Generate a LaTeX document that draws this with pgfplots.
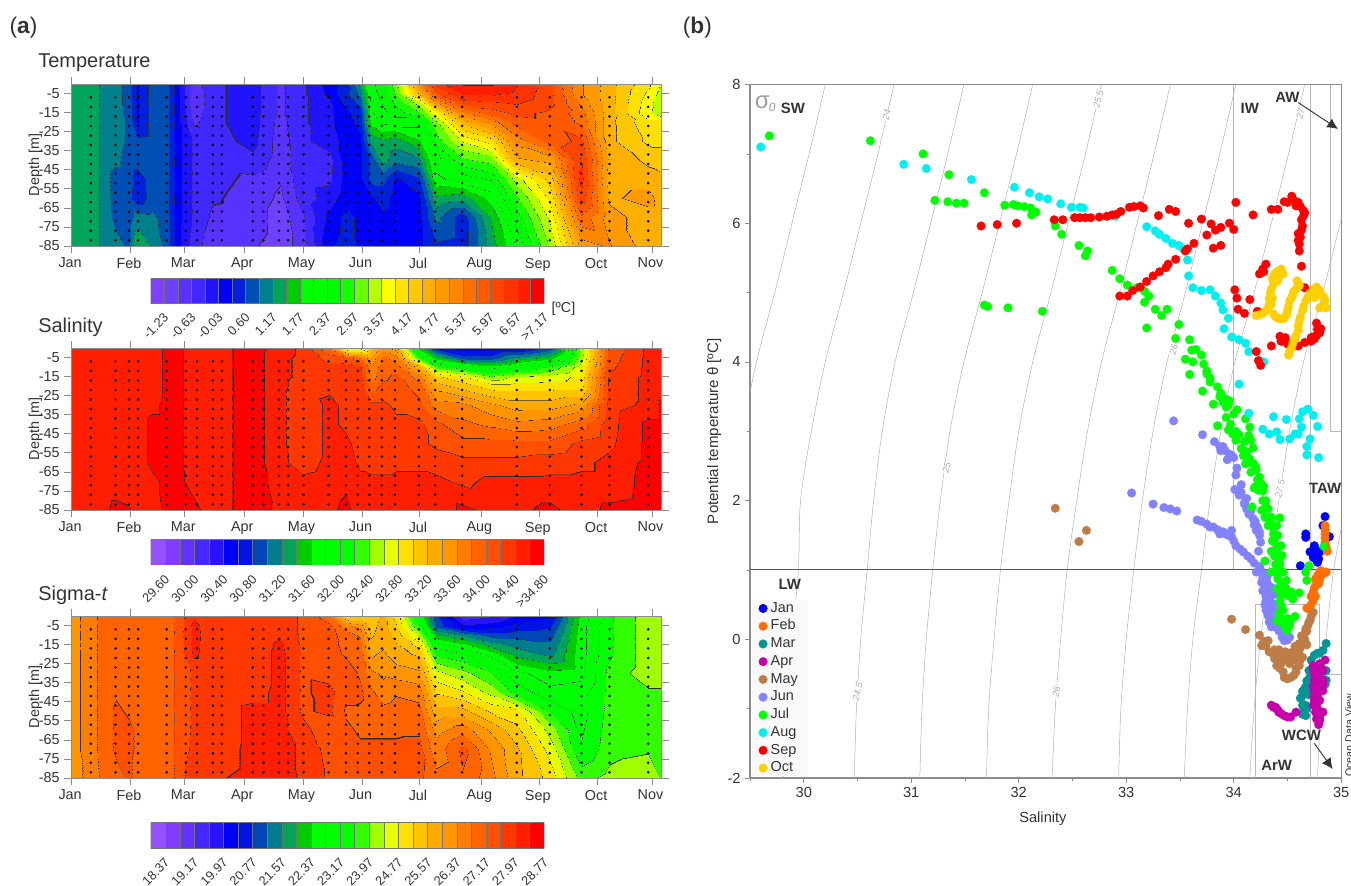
\documentclass[border=0pt]{standalone}
\usepackage{fontspec}
\setmainfont{Liberation Sans}
\usepackage{pgfplots}
\usepackage{pgfplotstable}
\pgfplotsset{compat=1.18}
\usetikzlibrary{arrows.meta}

% band palettes: every band ends in a thin dark stripe, which draws the contour line
\newcount\bn
\def\B#1,#2,#3;{%
  \definecolor{\cp\the\bn}{RGB}{#1,#2,#3}%
  \pgfmathsetmacro\pa{10*\the\bn+.1}\pgfmathsetmacro\pb{10*\the\bn+9.7}%
  \pgfmathsetmacro\pc{10*\the\bn+9.8}\pgfmathsetmacro\pd{10*\the\bn+10}%
  \xdef\cmbuf{\cmbuf rgb255(\pa pt)=(#1,#2,#3) rgb255(\pb pt)=(#1,#2,#3) rgb255(\pc pt)=(45,45,45) rgb255(\pd pt)=(45,45,45) }%
  \global\advance\bn by 1 }
\def\cp{tc}\bn=0 \def\cmbuf{}
\B128,64,255;\B112,64,255;\B90,50,255;\B64,40,255;\B32,20,255;\B0,0,255;\B0,32,220;\B0,80,180;\B0,128,140;\B0,165,90;
\B0,205,0;\B0,255,0;\B0,255,0;\B0,250,0;\B20,255,0;\B100,255,0;\B180,255,0;\B255,255,0;\B255,225,0;\B255,200,0;
\B255,175,0;\B255,155,0;\B255,135,0;\B255,110,0;\B255,90,0;\B255,70,0;\B255,50,0;\B255,30,0;\B255,0,0;
\edef\x{\noexpand\pgfplotsset{colormap={odvT}{\cmbuf}}}\x
\def\cp{sc}\bn=0 \def\cmbuf{}
\B150,80,255;\B130,60,255;\B100,50,255;\B70,40,255;\B40,20,255;\B0,0,255;\B0,20,230;\B0,70,180;\B0,125,140;\B0,165,90;
\B0,205,0;\B0,255,0;\B0,255,0;\B0,255,0;\B50,255,0;\B160,255,0;\B230,255,0;\B255,225,0;\B255,195,0;\B255,170,0;
\B255,150,0;\B255,125,0;\B255,100,0;\B255,80,0;\B255,55,0;\B255,30,0;\B255,0,0;
\edef\x{\noexpand\pgfplotsset{colormap={odvS}{\cmbuf}}}\x

\definecolor{txt}{gray}{0.2}
\definecolor{frame}{gray}{0.55}
\definecolor{iso}{gray}{0.68}
\definecolor{box}{gray}{0.72}
\definecolor{legbg}{gray}{0.975}
\definecolor{mJan}{RGB}{0,0,255}
\definecolor{mFeb}{RGB}{255,110,0}
\definecolor{mMar}{RGB}{0,150,150}
\definecolor{mApr}{RGB}{200,0,170}
\definecolor{mMay}{RGB}{190,125,70}
\definecolor{mJun}{RGB}{130,130,255}
\definecolor{mJul}{RGB}{0,255,0}
\definecolor{mAug}{RGB}{0,240,240}
\definecolor{mSep}{RGB}{255,0,0}
\definecolor{mOct}{RGB}{255,208,0}

\pgfplotstableread{
x y T S D
0 0 1.35 34.5 26.2
0 -5 1.35 34.5 26.2
0 -10 1.35 34.5 26.2
0 -15 1.35 34.5 26.2
0 -20 1.35 34.5 26.2
0 -30 1.35 34.5 26.2
0 -40 1.35 34.5 26.2
0 -50 1.35 34.5 26.2
0 -60 1.35 34.5 26.2
0 -70 1.35 34.5 26.2
0 -85 1.35 34.5 26.2
10 0 1.35 34.5 26.6
10 -5 1.35 34.5 26.6
10 -10 1.35 34.5 26.6
10 -15 1.35 34.5 26.6
10 -20 1.35 34.5 26.6
10 -30 1.35 34.5 26.6
10 -40 1.35 34.5 26.6
10 -50 1.35 34.5 26.6
10 -60 1.35 34.5 26.6
10 -70 1.35 34.5 26.6
10 -85 1.3 34.5 26.5
16 0 1.1 34.5 26.9
16 -5 1.1 34.5 26.9
16 -10 1.1 34.5 26.9
16 -15 1.1 34.5 26.9
16 -20 1.1 34.5 26.9
16 -30 1.1 34.5 26.9
16 -40 1.1 34.5 26.9
16 -50 1.1 34.5 26.9
16 -60 1.1 34.5 26.9
16 -70 1.1 34.5 26.9
16 -85 1.1 34.55 26.85
23 0 1 34.5 26.9
23 -5 1 34.5 26.9
23 -10 1 34.5 26.9
23 -15 1 34.5 26.9
23 -20 1 34.5 26.9
23 -30 1 34.5 26.95
23 -40 .95 34.5 27.1
23 -50 .7 34.5 27.25
23 -60 .7 34.5 27.25
23 -70 .75 34.5 27.25
23 -85 1 34.65 27
30 0 .7 34.5 26.9
30 -5 .7 34.5 26.9
30 -10 .7 34.5 26.9
30 -15 .75 34.5 26.95
30 -20 .8 34.5 27
30 -30 .8 34.5 27
30 -40 .7 34.5 27.1
30 -50 .7 34.5 27.1
30 -60 .65 34.5 27.25
30 -70 .7 34.5 27.25
30 -85 .8 34.62 27.25
34 0 .2 34.5 27
34 -5 .2 34.5 27
34 -10 .2 34.5 27
34 -15 .2 34.5 27
34 -20 .2 34.5 27
34 -30 .65 34.5 27.1
34 -40 .7 34.5 27.1
34 -50 .4 34.5 27.1
34 -60 .35 34.5 27.1
34 -70 1 34.5 27.1
34 -85 1.5 34.5 27
42 0 .7 34.5 26.9
42 -5 .7 34.5 26.9
42 -10 .7 34.5 26.9
42 -15 .7 34.5 26.9
42 -20 .7 34.5 26.9
42 -30 .7 34.55 26.9
42 -40 .7 34.65 26.9
42 -50 .7 34.65 26.9
42 -60 .7 34.65 26.9
42 -70 .95 34.55 26.9
42 -85 1.1 34.5 27
50 0 .65 34.65 27
50 -5 .65 34.65 27
50 -10 .65 34.65 27
50 -15 .65 34.65 27
50 -20 .65 34.65 27
50 -30 .65 34.65 27
50 -40 .65 34.65 27
50 -50 .65 34.65 27
50 -60 .65 34.65 27
50 -70 .7 34.65 27
50 -85 .75 34.65 27
55 0 .1 34.65 27.25
55 -5 .1 34.65 27.25
55 -10 .1 34.65 27.25
55 -15 .1 34.65 27.25
55 -20 .1 34.65 27.25
55 -30 .1 34.65 27.25
55 -40 .1 34.65 27.25
55 -50 .1 34.65 27.25
55 -60 .1 34.65 27.25
55 -70 .1 34.65 27.25
55 -85 .1 34.65 27.25
64 0 -.8 34.5 27.9
64 -5 -.9 34.5 28.1
64 -10 -.9 34.5 28.1
64 -15 -.8 34.5 28.1
64 -20 -.7 34.5 28.05
64 -30 -.4 34.5 27.65
64 -40 -.4 34.5 27.65
64 -50 -.4 34.5 27.65
64 -60 -.4 34.5 27.65
64 -70 -.4 34.52 27.7
64 -85 -.5 34.65 27.9
74 0 -.4 34.5 27.65
74 -5 -.4 34.5 27.65
74 -10 -.4 34.5 27.65
74 -15 -.4 34.5 27.65
74 -20 -.4 34.5 27.65
74 -30 -.45 34.5 27.65
74 -40 -.5 34.5 27.65
74 -50 -.55 34.5 27.65
74 -60 -.6 34.5 27.65
74 -70 -.7 34.5 27.7
74 -85 -.85 34.5 27.9
95 0 -.2 34.7 27.7
95 -5 -.2 34.7 27.7
95 -10 -.2 34.7 27.7
95 -15 -.2 34.7 27.7
95 -20 -.2 34.7 27.7
95 -30 -.25 34.7 27.7
95 -40 -.4 34.7 27.8
95 -50 -.7 34.7 28.1
95 -60 -.75 34.7 28.1
95 -70 -.75 34.7 28.1
95 -85 -.9 34.7 28.1
109 0 -.7 34.5 27.8
109 -5 -.7 34.45 27.8
109 -10 -.7 34.45 27.9
109 -15 -.7 34.45 28.05
109 -20 -.75 34.45 28.1
109 -30 -.8 34.45 28.1
109 -40 -.8 34.45 28.1
109 -50 -.9 34.45 28.1
109 -60 -1 34.45 28.1
109 -70 -1.1 34.5 28.1
109 -85 -1.1 34.55 28.2
121 0 -.4 34.35 27.5
121 -5 -.4 34.35 27.5
121 -10 -.4 34.35 27.5
121 -15 -.4 34.35 27.5
121 -20 -.4 34.3 27.5
121 -30 -.4 34.25 27.5
121 -40 -.45 34.25 27.5
121 -50 -.45 34.25 27.5
121 -60 -.5 34.3 27.7
121 -70 -.7 34.45 27.9
121 -85 -.8 34.5 27.9
135 0 .1 33.8 26.9
135 -5 .05 34.1 27.25
135 -10 -.1 34.3 27.3
135 -15 -.1 34.3 27.3
135 -20 -.1 34.35 27.35
135 -30 -.2 34.45 27.4
135 -40 -.45 34.45 27.7
135 -50 -.4 34.45 27.65
135 -60 -.2 34.45 27.3
135 -70 .05 34.5 27.4
135 -85 .2 34.55 27.5
144 0 .4 32.5 25
144 -5 .5 34.05 26.5
144 -10 .35 34.3 27
144 -15 .2 34.3 27.05
144 -20 .15 34.3 27.1
144 -30 .1 34.35 27.4
144 -40 .1 34.35 27.3
144 -50 .1 34.45 27.1
144 -60 .15 34.5 27.25
144 -70 .35 34.55 27.3
144 -85 .4 34.65 27.45
151 0 1.25 32.5 25.25
151 -5 .95 33.85 26.2
151 -10 .65 34.25 26.7
151 -15 .4 34.3 26.9
151 -20 .35 34.3 27
151 -30 .2 34.3 27.1
151 -40 .2 34.3 27.25
151 -50 .2 34.3 27.1
151 -60 .2 34.35 27.1
151 -70 .2 34.45 27.25
151 -85 .2 34.5 27.4
157 0 2.3 33.1 25.3
157 -5 2.2 33.45 25.4
157 -10 2.15 33.65 25.5
157 -15 2 33.7 25.7
157 -20 1.9 33.9 25.9
157 -30 1.25 34.25 26.45
157 -40 .65 34.3 26.85
157 -50 .65 34.3 27
157 -60 .2 34.3 27.1
157 -70 .2 34.45 27.25
157 -85 .15 34.45 27.4
163 0 2.5 33.5 25.7
163 -5 2.5 33.85 25.75
163 -10 2.4 33.9 25.85
163 -15 2.3 33.95 25.9
163 -20 2.15 34.05 26.05
163 -30 1.4 34.25 26.3
163 -40 1.3 34.25 26.5
163 -50 .65 34.3 26.9
163 -60 .4 34.3 27.1
163 -70 .2 34.45 27.25
163 -85 .15 34.45 27.3
170 0 3.2 33.3 25
170 -5 3 33.7 25.2
170 -10 2.75 33.9 25.4
170 -15 2.5 34.05 25.6
170 -20 2.2 34.1 25.7
170 -30 1.3 34.15 26.2
170 -40 .95 34.25 26.7
170 -50 .2 34.3 27
170 -60 .1 34.35 27.1
170 -70 .1 34.45 27.25
170 -85 .1 34.45 27.3
182 0 5.2 31.5 22.8
182 -5 4.5 32.25 23.5
182 -10 3.4 33.3 24.3
182 -15 2.9 33.7 25
182 -20 2.2 33.9 25.5
182 -30 1.7 34.05 26.05
182 -40 1.1 34.25 26.6
182 -50 .5 34.25 26.9
182 -60 .2 34.35 27.1
182 -70 .2 34.45 27.3
182 -85 .2 34.45 27.25
191 0 6.4 30.7 20.85
191 -5 5.9 31.5 21.05
191 -10 5 32.3 22
191 -15 3.8 33.05 23
191 -20 3.2 33.3 23.5
191 -30 2.8 33.7 24.5
191 -40 2.2 34.05 25.1
191 -50 2 34.15 25.7
191 -60 1.4 34.3 26.2
191 -70 .95 34.45 26.5
191 -85 .5 34.45 26.9
205 0 6.9 30.5 19.3
205 -5 6.6 30.9 20.05
205 -10 6.1 32.05 21.5
205 -15 5.3 32.85 22.5
205 -20 4.6 33.1 23.2
205 -30 3.6 33.65 24.1
205 -40 2.9 33.85 24.8
205 -50 2.2 34.05 25.7
205 -60 1.3 34.25 26.6
205 -70 .4 34.35 27.3
205 -85 .4 34.65 27.1
220 0 6.9 30.5 19.5
220 -5 6.6 30.9 20.2
220 -10 6.2 31.7 21
220 -15 5.8 32.45 21.8
220 -20 5.2 32.9 22.6
220 -30 4 33.45 23.6
220 -40 3.1 33.75 24.2
220 -50 2.4 34.05 25.1
220 -60 1.9 34.25 25.9
220 -70 1.5 34.45 26.3
220 -85 1.3 34.55 26.5
233 0 6.6 30.5 20
233 -5 6.5 31.25 20.5
233 -10 6.3 31.9 21
233 -15 6.05 32.65 21.45
233 -20 5.8 32.9 21.8
233 -30 5.2 33.3 22.9
233 -40 4.7 33.65 23.4
233 -50 3.4 34.05 24.9
233 -60 2.9 34.25 25.3
233 -70 2.5 34.45 25.65
233 -85 2.1 34.55 25.7
251 0 6.05 30.85 20.3
251 -5 6.05 31.5 20.7
251 -10 6.05 32.25 21
251 -15 5.9 32.7 21.25
251 -20 5.9 32.9 21.45
251 -30 5.8 33.3 22.5
251 -40 4.85 33.7 22.9
251 -50 4.3 34.05 23.5
251 -60 3.95 34.3 24.2
251 -70 3.65 34.45 24.6
251 -85 3.3 34.65 25
267 0 5.1 32.45 22.5
267 -5 5.1 32.5 22.6
267 -10 5.3 32.7 22.6
267 -15 5.5 32.85 22.6
267 -20 5.6 32.9 22.6
267 -30 6.05 33.45 22.6
267 -40 6.3 33.9 23
267 -50 6.4 34.25 23
267 -60 6.2 34.35 23.1
267 -70 5.6 34.45 23.2
267 -85 4.9 34.5 23.8
282 0 4.6 34.05 23.5
282 -5 4.6 34.1 23.5
282 -10 4.6 34.15 23.5
282 -15 4.6 34.25 23.5
282 -20 4.55 34.25 23.5
282 -30 4.55 34.3 23.7
282 -40 4.7 34.32 23.7
282 -50 4.6 34.35 23.7
282 -60 4.7 34.45 23.75
282 -70 4.9 34.45 23.8
282 -85 5.1 34.65 24.1
302 0 3.95 34.45 24.2
302 -5 3.8 34.45 24.2
302 -10 3.7 34.45 24.2
302 -15 3.65 34.45 24.2
302 -20 3.95 34.45 24.2
302 -30 4.1 34.45 24.2
302 -40 4.4 34.65 23.9
302 -50 4.6 34.65 23.9
302 -60 4.9 34.65 23.9
302 -70 4.6 34.68 23.9
302 -85 4.6 34.7 24.3
309.4 0 3.5 34.45 24.2
309.4 -5 3.4 34.45 24.2
309.4 -10 3.3 34.45 24.2
309.4 -15 3.3 34.45 24.2
309.4 -20 3.95 34.5 24.2
309.4 -30 4.1 34.65 24.2
309.4 -40 4.3 34.65 23.9
309.4 -50 4.55 34.65 23.9
309.4 -60 4.6 34.65 23.9
309.4 -70 4.6 34.65 23.9
309.4 -85 4.6 34.7 23.9
}\griddata

\pgfplotstableread{
d
-7
-12
-17
-22
-27
-32
-37
-42
-47
-52
-57
-62
-67
-72
-77
-82
}\depthtab

\pgfplotsset{
  every tick label/.append style={font=\fontsize{10.8}{12}\selectfont,text=txt},
  /pgf/number format/assume math mode=true,
  panel/.style={
    at={(53.8pt,#1)},anchor=south west,scale only axis,width=442.5pt,height=121.5pt,
    view={0}{90},xmin=0,xmax=309.4,ymin=-85,ymax=0,
    xtick={0,30.9,59.3,90.3,121.3,152.3,182.4,214.6,245.2,275.8,304.3},
    xticklabels={Jan,Feb,Mar,Apr,May,Jun,Jul,Aug,Sep,Oct,Nov},
    ytick={-5,-15,-25,-35,-45,-55,-65,-75,-85},
    tick pos=both,tick align=outside,major tick length=5.5pt,
    xticklabel style={xshift=-1.2pt},
    tick style={color=frame,line width=.5pt},axis line style={color=frame,line width=.7pt},
    ylabel={Depth [m]},ylabel style={font=\fontsize{10.8}{12}\selectfont,text=txt,at={(axis description cs:-0.042,0.5)}}},
  cbar/.style={
    at={(113pt,#1)},anchor=south west,scale only axis,width=295.2pt,height=19pt,
    ymin=0,ymax=1,ytick=\empty,axis line style={draw=none},
    xtick align=outside,major tick length=0pt,
    xticklabel style={rotate=45,anchor=north east,inner sep=1pt,yshift=-3pt,xshift=-4.5pt,font=\fontsize{9.6}{11}\selectfont}},
  stn/.style={only marks,mark=*,mark size=.75pt,mark options={black,draw=none,fill=black},forget plot},
  ts/.style={only marks,mark=*,mark size=3.25pt,color=#1,mark options={draw=#1,fill=#1,line width=.2pt}},
  isol/.style={smooth,color=iso,line width=.35pt,forget plot},
  boxl/.style={color=box,line width=.7pt,forget plot},
}

\newcommand{\stations}{%
  \pgfplotsinvokeforeach{10,23,30,34.8,49.8,59.8,65.7,74,78.7,94.9,100.5,108.7,113.5,121.5,134.7,143.8,150,156,162.6,169.5,182,190.6,204.7,233.4,250.7,267.3,282,302.3}{%
    \addplot[stn] table[x expr=##1,y=d]{\depthtab};}}
\newcommand{\C}[3]{\addplot[fill=#1#2,draw=black!55,line width=.4pt,forget plot] coordinates {(#2,0)(#2,1)(#3,1)(#3,0)} -- cycle;}

\begin{document}
\begin{tikzpicture}
\path[use as bounding box] (0,0) rectangle (1013.25pt,663.75pt);

% panel (a)
\begin{axis}[panel=479.25pt,colormap name=odvT,point meta min=-1.53,point meta max=7.17]
\addplot3[surf,shader=interp,mesh/rows=11,mesh/cols=30,mesh/ordering=y varies] table[x=x,y=y,z=T]{\griddata};
\stations
\end{axis}
\begin{axis}[panel=281.25pt,colormap name=odvS,point meta min=29.4,point meta max=34.8]
\addplot3[surf,shader=interp,mesh/rows=11,mesh/cols=30,mesh/ordering=y varies] table[x=x,y=y,z=S]{\griddata};
\stations
\end{axis}
\begin{axis}[panel=80.25pt,colormap name=odvS,point meta min=17.97,point meta max=28.77]
\addplot3[surf,shader=interp,mesh/rows=11,mesh/cols=30,mesh/ordering=y varies] table[x=x,y=y,z=D]{\griddata};
\stations
\end{axis}

% colour bars
\begin{axis}[cbar=436.3pt,xmin=0,xmax=29,xtick={1,3,...,29},
  xticklabels={-1.23,-0.63,-0.03,0.60,1.17,1.77,2.37,2.97,3.57,4.17,4.77,5.37,5.97,6.57,>7.17}]
\C{tc}{0}{1}\C{tc}{1}{2}\C{tc}{2}{3}\C{tc}{3}{4}\C{tc}{4}{5}\C{tc}{5}{6}\C{tc}{6}{7}\C{tc}{7}{8}\C{tc}{8}{9}\C{tc}{9}{10}
\C{tc}{10}{11}\C{tc}{11}{12}\C{tc}{12}{13}\C{tc}{13}{14}\C{tc}{14}{15}\C{tc}{15}{16}\C{tc}{16}{17}\C{tc}{17}{18}\C{tc}{18}{19}\C{tc}{19}{20}
\C{tc}{20}{21}\C{tc}{21}{22}\C{tc}{22}{23}\C{tc}{23}{24}\C{tc}{24}{25}\C{tc}{25}{26}\C{tc}{26}{27}\C{tc}{27}{28}\C{tc}{28}{29}
\end{axis}
\begin{axis}[cbar=240pt,xmin=0,xmax=27,xtick={1,3,...,27},
  xticklabels={29.60,30.00,30.40,30.80,31.20,31.60,32.00,32.40,32.80,33.20,33.60,34.00,34.40,>34.80}]
\C{sc}{0}{1}\C{sc}{1}{2}\C{sc}{2}{3}\C{sc}{3}{4}\C{sc}{4}{5}\C{sc}{5}{6}\C{sc}{6}{7}\C{sc}{7}{8}\C{sc}{8}{9}\C{sc}{9}{10}
\C{sc}{10}{11}\C{sc}{11}{12}\C{sc}{12}{13}\C{sc}{13}{14}\C{sc}{14}{15}\C{sc}{15}{16}\C{sc}{16}{17}\C{sc}{17}{18}\C{sc}{18}{19}\C{sc}{19}{20}
\C{sc}{20}{21}\C{sc}{21}{22}\C{sc}{22}{23}\C{sc}{23}{24}\C{sc}{24}{25}\C{sc}{25}{26}\C{sc}{26}{27}
\end{axis}
\begin{axis}[cbar=27.75pt,xmin=0,xmax=27,xtick={1,3,...,27},
  xticklabels={18.37,19.17,19.97,20.77,21.57,22.37,23.17,23.97,24.77,25.57,26.37,27.17,27.97,28.77}]
\C{sc}{0}{1}\C{sc}{1}{2}\C{sc}{2}{3}\C{sc}{3}{4}\C{sc}{4}{5}\C{sc}{5}{6}\C{sc}{6}{7}\C{sc}{7}{8}\C{sc}{8}{9}\C{sc}{9}{10}
\C{sc}{10}{11}\C{sc}{11}{12}\C{sc}{12}{13}\C{sc}{13}{14}\C{sc}{14}{15}\C{sc}{15}{16}\C{sc}{16}{17}\C{sc}{17}{18}\C{sc}{18}{19}\C{sc}{19}{20}
\C{sc}{20}{21}\C{sc}{21}{22}\C{sc}{22}{23}\C{sc}{23}{24}\C{sc}{24}{25}\C{sc}{25}{26}\C{sc}{26}{27}
\end{axis}

% panel (b)
\begin{axis}[at={(562.5pt,80.25pt)},anchor=south west,scale only axis,width=443.4pt,height=520.1pt,
  xmin=29.5,xmax=35,ymin=-2,ymax=8,
  xtick={30,...,35},ytick={-2,0,...,8},minor xtick={29.5,30.5,...,34.5},minor ytick={-1,1,...,7},
  xtick pos=lower,ytick pos=left,tick align=outside,major tick length=3.5pt,minor tick length=2.5pt,
  tick style={color=frame,line width=.5pt},axis line style={color=frame,line width=.9pt},
  xlabel={Salinity},ylabel={Potential temperature θ [ºC]},xlabel shift=3.5pt,ylabel shift=-2.2pt,
  xlabel style={font=\fontsize{11}{12}\selectfont,text=txt,xshift=-2pt},ylabel style={font=\fontsize{11.3}{12}\selectfont,text=txt},
  every tick label/.append style={font=\fontsize{11}{12}\selectfont},
  legend style={at={(0.003,0.002)},anchor=south west,draw=none,fill=legbg,
    font=\fontsize{10.8}{12}\selectfont,text=txt,inner xsep=5pt,inner ysep=1pt,row sep=2.9pt,
    nodes={inner ysep=0pt,inner xsep=2.5pt,text height=8pt,text depth=2.4pt}},
  legend cell align=left]
% isopycnals
\addplot[isol] coordinates {(30.2,8)(30.05,7)(29.89,6)(29.73,5)(29.56,4)(29.43,3)};
\addplot[isol] coordinates {(30.84,8)(30.69,7)(30.53,6)(30.37,5)(30.2,4)(30.07,3)(29.97,2)(29.95,1)(29.89,0)(29.84,-1)(29.81,-2)};
\addplot[isol] coordinates {(31.49,8)(31.34,7)(31.18,6)(31.02,5)(30.85,4)(30.73,3)(30.65,2)(30.59,1)(30.53,0)(30.49,-1)(30.47,-2)};
\addplot[isol] coordinates {(32.13,8)(31.98,7)(31.82,6)(31.66,5)(31.49,4)(31.36,3)(31.27,2)(31.2,1)(31.14,0)(31.1,-1)(31.08,-2)};
\addplot[isol] coordinates {(32.77,8)(32.62,7)(32.46,6)(32.3,5)(32.13,4)(32,3)(31.91,2)(31.83,1)(31.77,0)(31.72,-1)(31.7,-2)};
\addplot[isol] coordinates {(33.41,8)(33.26,7)(33.1,6)(32.94,5)(32.77,4)(32.64,3)(32.54,2)(32.45,1)(32.39,0)(32.34,-1)(32.31,-2)};
\addplot[isol] coordinates {(34.02,8)(33.87,7)(33.71,6)(33.55,5)(33.38,4)(33.25,3)(33.15,2)(33.07,1)(33,0)(32.95,-1)(32.93,-2)};
\addplot[isol] coordinates {(34.66,8)(34.51,7)(34.35,6)(34.19,5)(34.01,4)(33.88,3)(33.78,2)(33.7,1)(33.62,0)(33.57,-1)(33.54,-2)};
\addplot[isol] coordinates {(35.3,8)(35.15,7)(34.99,6)(34.83,5)(34.65,4)(34.52,3)(34.42,2)(34.33,1)(34.25,0)(34.19,-1)(34.15,-2)};
\addplot[isol] coordinates {(35.05,2)(34.93,1)(34.86,0)(34.81,-1)(34.78,-2)};
% water mass boxes
\addplot[boxl] coordinates {(34,8)(34,1)};
\addplot[boxl] coordinates {(34.71,8)(34.71,1)};
\addplot[boxl] coordinates {(34.9,8)(34.9,3)(35,3)};
\addplot[boxl] coordinates {(34.2,-2)(34.2,.5)(34.8,.5)(34.8,-.5)};
\addplot[boxl] coordinates {(34.71,-2)(34.71,-.5)(35,-.5)};
\addplot[color=black!65,line width=.7pt,forget plot] coordinates {(29.5,1)(35,1)};
% months
\addplot[ts=mJan] coordinates {(34.85,1.77)(34.83,1.64)(34.89,1.48)(34.67,1.52)(34.67,1.47)(34.75,1.33)(34.74,1.25)(34.77,1.23)(34.74,1.18)(34.78,1.11)(34.62,1.06)(34.75,1.35)(34.71,1.26)(34.8,1.26)(34.77,1.14)(34.79,1.16)};
\addlegendentry{Jan}
\addplot[ts=mFeb] coordinates {(34.85,1.64)(34.85,1.58)(34.85,1.52)(34.85,1.46)(34.85,1.4)(34.86,1.34)(34.87,1.27)(34.81,.99)(34.86,.97)(34.78,.92)(34.8,.86)(34.77,.8)(34.75,.74)(34.74,.68)(34.74,.56)(34.7,.44)(34.84,.95)(34.82,.93)(34.8,.97)(34.76,.87)(34.79,.8)(34.72,.62)(34.76,.62)(34.72,.5)(34.68,.45)};
\addlegendentry{Feb}
\addplot[ts=mMar] coordinates {(34.86,-.06)(34.83,-.16)(34.75,-.23)(34.74,-.4)(34.71,-.54)(34.86,-.59)(34.86,-.45)(34.66,-.71)(34.63,-.84)(34.65,-.78)(34.67,-.95)(34.67,-1.1)(34.66,-1.0)(34.7,-.65)(34.78,-.2)(34.8,-.2)(34.72,-.3)(34.7,-.45)(34.68,-.6)(34.68,-.65)(34.64,-.75)(34.62,-.85)(34.64,-.95)(34.66,-1.02)(34.64,-1.08)(34.68,-1)(34.7,-.8)(34.72,-.7)(34.82,-.5)(34.85,-.65)};
\addlegendentry{Mar}
\addplot[ts=mApr] coordinates {(34.85,-.3)(34.74,-.38)(34.8,-.35)(34.83,-.45)(34.83,-.59)(34.75,-.59)(34.75,-.5)(34.83,-.74)(34.75,-.74)(34.8,-.88)(34.75,-.88)(34.78,-1)(34.8,-1.12)(34.79,-1.23)(34.78,-.65)(34.37,-.98)(34.41,-1.02)(34.47,-1.1)(34.53,-1.12)(34.58,-1.05)(34.76,-.42)(34.79,-.45)(34.79,-.55)(34.76,-.65)(34.8,-.7)(34.78,-.8)(34.8,-.75)(34.83,-.65)(34.78,-.9)(34.74,-.95)(34.76,-1.05)(34.83,-1.05)(34.8,-1.17)(34.77,-1.15)(34.81,-.4)(34.74,-.45)(34.74,-.68)(34.75,-.82)(34.42,-1.05)(34.44,-1.07)(34.5,-1.12)(34.35,-.95)(34.39,-.98)};
\addlegendentry{Apr}
\addplot[ts=mMay] coordinates {(32.34,1.89)(32.63,1.57)(32.56,1.41)(33.98,.29)(34.11,.14)(34.24,.06)(34.32,-.02)(34.26,-.09)(34.33,-.18)(34.4,-.23)(34.4,-.38)(34.46,-.47)(34.5,-.57)(34.58,-.47)(34.61,-.38)(34.64,-.26)(34.67,-.06)(34.66,.08)(34.69,.2)(34.74,.39)(34.61,-.06)(34.52,-.21)(34.58,-.16)(34.46,-.23)(34.44,-.35)(34.54,-.3)(34.61,-.21)(34.71,.27)(34.66,0)(34.68,.12)(34.72,.33)(34.7,.25)(34.67,.15)(34.63,.05)(34.65,-.03)(34.62,-.12)(34.68,-.08)(34.6,-.15)(34.57,-.1)(34.55,-.18)(34.5,-.25)(34.48,-.18)(34.42,-.15)(34.38,-.15)(34.36,-.2)(34.38,-.28)(34.42,-.3)(34.48,-.3)(34.52,-.35)(34.58,-.3)(34.62,-.3)(34.6,-.25)(34.43,-.42)(34.56,-.52)(34.47,-.55)(34.53,-.55)(34.58,-.42)(34.28,-.03)(34.3,-.1)};
\addlegendentry{May}
\addplot[ts=mJun] coordinates {(33.44,3.15)(33.71,2.95)(33.82,2.85)(33.87,2.78)(33.92,2.72)(33.96,2.67)(33.94,2.59)(34.03,2.47)(34.02,2.37)(34.07,2.23)(34.01,2.16)(34.07,2.12)(34.12,2.03)(34.14,1.81)(34.18,1.74)(34.21,1.57)(34.24,1.5)(34.25,1.4)(34.23,1.27)(34.1,1.95)(34.16,1.85)(34.19,1.65)(33.05,2.11)(33.25,1.95)(33.35,1.9)(33.41,1.88)(33.47,1.85)(33.66,1.72)(33.75,1.66)(33.81,1.62)(33.87,1.52)(33.95,1.5)(33.98,1.57)(33.92,1.52)(34.02,1.35)(34.09,1.26)(34.16,1.16)(34.21,.97)(34.27,.89)(34.29,.75)(34.32,.61)(34.37,.51)(34.32,.34)(34.38,.27)(34.46,.1)(34.52,.03)(34.24,1.05)(34.3,.62)(34.33,.45)(34.35,.75)(34.38,.65)(34.4,.4)(34.35,.18)(34.42,.12)(34.25,1)(34.28,.95)(34.31,.9)(34.31,.82)(34.26,.82)(34.33,.7)(34.27,.7)(34.3,.55)(34.34,.55)(34.29,.5)(34.3,.42)(34.36,.38)(34.33,.25)(34.38,.18)(34.42,.2)(34.45,.03)(34.49,.05)(34.47,-.02)(34.5,-.01)(33.7,1.7)(33.78,1.62)(33.85,1.58)(33.9,1.55)(33.98,1.48)(34,1.42)(34.06,1.3)(34.13,1.2)(34.19,1.1)(34.03,2.15)(34.05,2.08)(34.1,1.97)(34.12,1.88)(34.15,1.8)(34.2,1.7)(34.22,1.62)(34.24,1.55)(33.98,2.65)(34,2.62)(33.88,2.72)(33.9,2.78)};
\addlegendentry{Jun}
\addplot[ts=mJul] coordinates {(29.68,7.26)(30.62,7.19)(31.11,7)(31.35,6.7)(31.22,6.33)(31.34,6.31)(31.42,6.29)(31.49,6.29)(31.68,6.44)(31.87,6.26)(31.95,6.27)(31.99,6.25)(32.05,6.24)(32.11,6.22)(32.16,6.16)(32.12,6.12)(32.34,5.96)(32.4,5.84)(32.56,5.68)(32.64,5.6)(32.62,5.53)(31.68,4.82)(31.71,4.8)(31.9,4.78)(32.22,4.73)(32.87,5.32)(32.94,5.2)(33.01,5.11)(33.1,5.07)(33.17,5.02)(33.21,4.95)(33.17,4.86)(33.27,4.76)(33.33,4.67)(33.38,4.76)(33.19,4.49)(33.49,4.54)(33.46,4.34)(33.59,4.32)(33.55,4.04)(33.61,4.17)(33.65,4.18)(33.7,4.1)(33.72,3.97)(33.59,3.82)(33.75,3.87)(33.62,4)(33.78,3.77)(33.75,3.83)(33.78,3.71)(33.71,3.58)(33.85,3.64)(33.87,3.5)(33.92,3.47)(33.96,3.44)(33.81,3.39)(33.93,3.35)(34.03,3.31)(33.93,3.2)(33.97,3.1)(33.85,3.08)(34.11,3.18)(34.15,3.06)(33.99,2.96)(34.14,2.94)(34.02,2.87)(34.16,2.87)(34.18,2.76)(34.07,2.75)(34.09,2.65)(34.11,2.53)(34.18,2.54)(34.16,2.41)(34.21,2.45)(34.24,2.34)(34.26,2.24)(34.19,2.18)(34.27,2.14)(34.27,2)(34.17,1.91)(34.26,1.86)(34.32,1.88)(34.29,1.76)(34.35,1.76)(34.43,1.75)(34.32,1.64)(34.4,1.64)(34.37,1.52)(34.41,1.5)(34.38,1.4)(34.44,1.35)(34.35,1.27)(34.45,1.21)(34.29,1.13)(34.43,1.09)(34.35,.97)(34.46,.97)(34.41,.87)(34.49,.85)(34.4,.73)(34.49,.73)(34.54,.68)(34.61,.67)(34.55,.58)(34.44,.49)(34.42,.37)(34.4,.27)(34.46,.22)(34.5,.3)(34.57,.33)(34.5,.13)(34.52,.2)(34.7,1.06)(34.67,.97)(34.68,.85)(34.84,1.34)(34.12,2.7)(34.2,2.2)(34.38,1.2)(34.42,1)(33.88,3.55)(33.9,3.42)(33.95,3.38)(34,3.25)(33.95,3.02)(34.02,3)(34.05,2.95)(34.1,2.85)(34.1,2.72)(34.15,2.6)(34.2,2.5)(34.22,2.3)(34.23,2.15)(34.28,2.2)(34.3,2)(34.3,1.9)(34.34,1.7)(34.37,1.6)(34.36,1.42)(34.4,1.3)(34.42,1.15)(34.39,1.08)(34.4,.95)(34.42,.95)(34.44,.78)(34.44,.65)(34.47,.65)(34.52,.62)(34.43,.55)(34.46,.42)(34.43,.3)(34.48,.17)(34.53,.27)(34.46,.28)};
\addlegendentry{Jul}
\addplot[ts=mAug] coordinates {(29.6,7.1)(30.93,6.85)(31.14,6.79)(31.56,6.63)(31.96,6.52)(32.1,6.44)(32.19,6.38)(32.27,6.35)(32.39,6.28)(32.49,6.23)(32.57,6.23)(32.6,6.22)(32.9,6.1)(33.19,5.95)(33.27,5.89)(33.31,5.84)(33.37,5.78)(33.43,5.71)(33.49,5.68)(33.53,5.63)(33.57,5.47)(33.58,5.24)(33.62,5.07)(33.7,5.03)(33.78,5.04)(33.83,4.95)(33.88,4.85)(33.9,4.75)(33.95,4.63)(33.91,4.48)(33.98,4.36)(34.05,4.32)(34.11,4.27)(34.14,4.15)(34.28,4)(34.05,3.68)(34.14,3.26)(34.37,3.21)(34.27,3.03)(34.33,2.96)(34.4,2.99)(34.43,2.88)(34.49,3.17)(34.52,2.89)(34.57,2.96)(34.6,2.96)(34.61,3.18)(34.64,3.28)(34.69,3.32)(34.74,3.23)(34.78,3.07)(34.71,2.89)(34.68,2.78)(34.68,2.66)(34.79,2.62)(34.63,3.06)};
\addlegendentry{Aug}
\addplot[ts=mSep] coordinates {(31.65,5.96)(31.8,5.98)(31.98,6)(32.33,6.05)(32.41,6.05)(32.52,6.08)(32.57,6.08)(32.62,6.08)(32.67,6.08)(32.75,6.09)(32.82,6.1)(32.87,6.12)(32.91,6.13)(32.95,6.17)(33.03,6.23)(33.07,6.24)(33.13,6.25)(33.16,6.22)(33.3,6.11)(33.4,6.2)(33.46,6.17)(33.58,6)(33.7,6.06)(33.79,5.99)(33.88,5.94)(33.83,5.9)(33.75,5.83)(33.96,6)(34,5.91)(34.02,6.3)(34.18,6.12)(34.35,6.2)(34.41,6.2)(34.47,6.31)(34.54,6.39)(34.56,6.33)(34.58,6.25)(34.62,6.24)(34.65,6.18)(34.65,6.11)(34.64,5.96)(34.63,5.9)(34.62,5.8)(34.61,5.7)(34.61,5.6)(34.63,5.38)(34.6,5.85)(34.6,5.75)(34.63,6.05)(34.66,6.15)(34.6,6.3)(34.5,6.3)(32.94,4.95)(33.01,4.95)(33.06,5.03)(33.13,5.08)(33.19,5.16)(33.25,5.24)(33.31,5.3)(33.37,5.36)(33.39,5.41)(33.46,5.48)(33.55,5.6)(33.57,5.63)(33.63,5.71)(33.81,5.64)(33.88,5.68)(34.01,5.04)(34.03,4.92)(34.15,4.9)(34.04,4.76)(34.1,4.7)(34.22,4.73)(34.24,5.27)(34.27,5.34)(34.28,5.3)(34.3,5.41)(34.66,5.07)(34.21,4.15)(34.23,4.02)(34.25,3.95)(34.35,4.23)(34.43,4.37)(34.48,4.35)(34.45,4.3)(34.6,4.23)(34.66,4.28)(34.72,4.3)(34.77,4.38)(34.78,4.47)(34.81,4.48)(34.77,4.56)(34.44,4.3)(34.5,4.26)(34.55,4.22)(34.72,4.35)(34.75,4.33)(34.8,4.42)(34.74,4.36)};
\addlegendentry{Sep}
\addplot[ts=mOct] coordinates {(34.21,4.67)(34.27,4.7)(34.32,4.78)(34.35,4.83)(34.34,5)(34.37,5.12)(34.38,5.27)(34.44,5.34)(34.46,5.27)(34.41,5.17)(34.36,4.92)(34.37,4.69)(34.41,4.63)(34.47,4.63)(34.5,4.74)(34.52,4.88)(34.55,4.97)(34.58,5.05)(34.59,5.17)(34.61,5.1)(34.51,4.1)(34.54,4.21)(34.57,4.33)(34.6,4.45)(34.61,4.59)(34.64,4.74)(34.67,4.88)(34.71,4.99)(34.77,5.08)(34.8,5.03)(34.85,4.89)(34.86,4.78)(34.8,4.78)(34.75,4.93)(34.24,4.68)(34.3,4.74)(34.33,4.83)(34.33,4.92)(34.35,5.05)(34.36,5.2)(34.4,5.3)(34.42,5.24)(34.38,5.18)(34.39,4.65)(34.44,4.62)(34.49,4.68)(34.51,4.8)(34.54,4.93)(34.56,5.02)(34.6,5.13)(34.52,4.15)(34.55,4.27)(34.58,4.38)(34.6,4.52)(34.62,4.65)(34.65,4.8)(34.69,4.93)(34.74,5.05)(34.83,4.95)(34.82,4.8)(34.78,4.97)};
\addlegendentry{Oct}
% labels
\begin{scope}[every node/.style={font=\fontsize{7}{8}\selectfont\itshape,text=iso,rotate=77,fill=white,inner sep=.4pt}]
\node at (axis cs:30.77,7.56) {24};
\node at (axis cs:30.5,-.76) {24.5};
\node at (axis cs:31.33,2.48) {25};
\node at (axis cs:32.74,7.79) {25.5};
\node at (axis cs:32.35,-.76) {26};
\node at (axis cs:33.45,4.23) {26.5};
\node at (axis cs:34.62,7.58) {27};
\node at (axis cs:34.43,2.17) {27.5};
\end{scope}
\begin{scope}[every node/.style={font=\fontsize{11.2}{12}\selectfont\bfseries,text=txt,inner sep=0pt}]
\node at (axis cs:29.9,7.66) {SW};
\node at (axis cs:34.15,7.65) {IW};
\node at (axis cs:34.5,7.81) {AW};
\node at (axis cs:34.85,2.17) {TAW};
\node at (axis cs:29.87,.79) {LW};
\node at (axis cs:34.63,-1.38) {WCW};
\node at (axis cs:34.4,-1.82) {ArW};
\end{scope}
\draw[-{Latex[length=8pt,width=8pt]},color=txt,line width=.7pt] (axis cs:34.6,7.74) -- (axis cs:34.97,7.36);
\draw[-{Latex[length=8pt,width=8pt]},color=txt,line width=.7pt] (axis cs:34.75,-1.5) -- (axis cs:34.92,-1.87);
\end{axis}

% free text
\begin{scope}[every node/.style={inner sep=0pt,text=txt}]
\node[anchor=west,font=\fontsize{15}{18}\selectfont] at (28.5pt,616.5pt) {Temperature};
\node[anchor=west,font=\fontsize{15}{18}\selectfont] at (28.5pt,418.5pt) {Salinity};
\node[anchor=west,font=\fontsize{15}{18}\selectfont] at (28.5pt,217.5pt) {Sigma-\textit{t}};
\node[anchor=west,font=\fontsize{17}{20}\selectfont] at (7pt,643pt) {(\textbf{a})};
\node[anchor=west,font=\fontsize{17}{20}\selectfont] at (512pt,643pt) {(\textbf{b})};
\node[anchor=west,font=\fontsize{10.8}{12}\selectfont] at (413.5pt,432pt) {[ºC]};
\node[anchor=west,font=\fontsize{18}{18}\selectfont,text=black!38] at (566pt,587pt) {σ};
\node[anchor=west,font=\fontsize{9}{9}\selectfont\itshape,text=black!40] at (576.5pt,583.5pt) {0};
\node[anchor=west,rotate=90,font=\fontsize{8}{9}\selectfont] at (1011.75pt,81pt) {Ocean Data View};
\end{scope}
\end{tikzpicture}
\end{document}
